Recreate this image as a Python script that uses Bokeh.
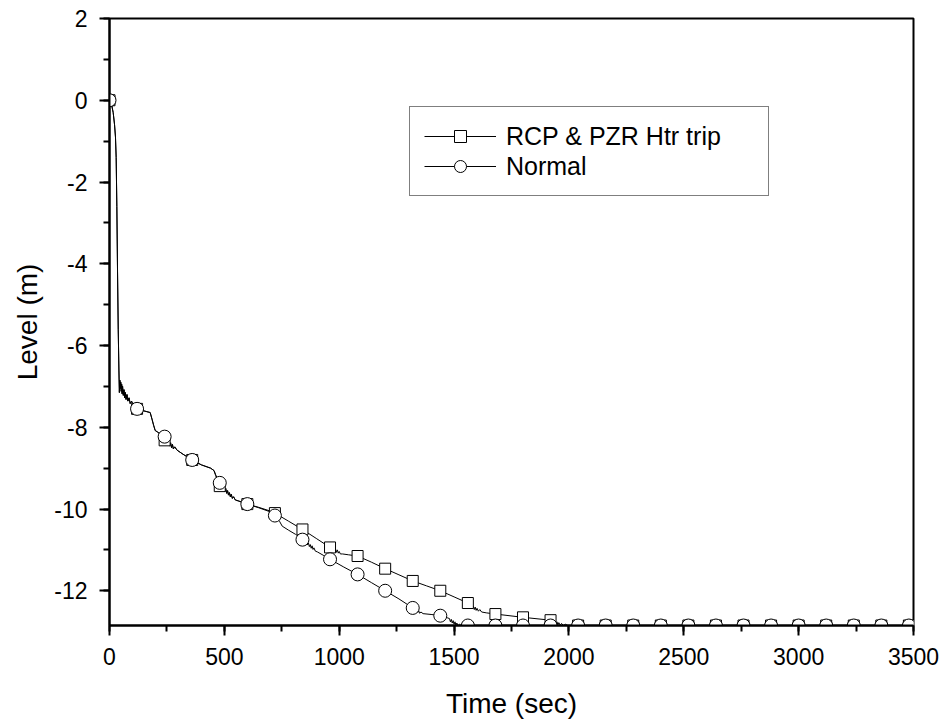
from bokeh.plotting import figure
from bokeh.models import Range1d, SingleIntervalTicker, CustomJSTickFormatter
from bokeh.embed import file_html
from bokeh.resources import INLINE

# ---------------- data ----------------
rcp_t = [0, 8, 16, 22, 26, 29, 32, 35, 38, 41, 43, 45, 47, 49, 51, 53, 55, 57, 60, 63, 66, 69, 72, 76, 80,
         85, 90, 96, 103, 112, 120, 150, 177, 185, 192, 199, 210, 225, 240, 250, 254, 258, 262, 266, 270,
         274, 278, 284, 294, 320, 360, 400, 440, 455, 462, 470, 480, 490, 494, 498, 502, 506, 510, 514,
         518, 522, 526, 530, 535, 540, 548, 560, 580, 600, 650, 700, 720, 780, 840, 900, 960, 968, 972,
         976, 980, 984, 988, 992, 996, 1000, 1005, 1015, 1040, 1080, 1140, 1200, 1260, 1320, 1380, 1440,
         1500, 1560, 1568, 1572, 1576, 1580, 1584, 1588, 1592, 1596, 1600, 1606, 1612, 1620, 1640, 1680,
         1800, 1920, 1930, 1936, 1940, 1944, 1948, 1952, 1956, 1962, 1968, 1976, 1985, 1995, 2040, 3500]
rcp_level = [0, -0.08, -0.3, -0.6, -0.9, -1.4, -2.6, -4.2, -5.6, -6.6, -7.15, -6.85, -7.05, -6.9, -7.12,
             -6.95, -7.18, -7.0, -7.22, -7.08, -7.28, -7.15, -7.32, -7.2, -7.36, -7.28, -7.42, -7.36, -7.46,
             -7.5, -7.55, -7.6, -7.64, -7.8, -7.95, -8.08, -8.12, -8.2, -8.32, -8.3, -8.42, -8.35, -8.46,
             -8.38, -8.5, -8.42, -8.53, -8.48, -8.56, -8.66, -8.8, -8.92, -9.0, -9.06, -9.18, -9.3, -9.44,
             -9.45, -9.54, -9.47, -9.58, -9.5, -9.62, -9.55, -9.66, -9.6, -9.7, -9.64, -9.74, -9.7, -9.78,
             -9.8, -9.84, -9.88, -9.96, -10.05, -10.1, -10.3, -10.5, -10.72, -10.94, -10.93, -11.0, -10.95,
             -11.03, -10.98, -11.06, -11.0, -11.08, -11.04, -11.1, -11.1, -11.12, -11.15, -11.3, -11.46,
             -11.61, -11.76, -11.88, -12.0, -12.15, -12.3, -12.33, -12.4, -12.35, -12.43, -12.38, -12.46,
             -12.4, -12.48, -12.43, -12.5, -12.46, -12.52, -12.54, -12.57, -12.65, -12.72, -12.72, -12.79,
             -12.74, -12.81, -12.76, -12.83, -12.78, -12.84, -12.8, -12.85, -12.82, -12.85, -12.85, -12.85]

normal_t = [0, 8, 16, 22, 26, 29, 32, 35, 38, 41, 43, 45, 47, 49, 51, 53, 55, 57, 60, 63, 66, 69, 72, 76, 80,
            85, 90, 96, 103, 112, 120, 150, 177, 185, 192, 199, 210, 225, 240, 250, 254, 258, 262, 266, 270,
            274, 278, 284, 294, 320, 360, 400, 440, 455, 462, 470, 480, 490, 494, 498, 502, 506, 510, 514,
            518, 522, 526, 530, 535, 540, 548, 560, 580, 600, 650, 700, 720, 740, 752, 780, 810, 840, 858,
            862, 866, 870, 874, 878, 882, 886, 890, 896, 905, 930, 960, 1020, 1080, 1140, 1200, 1260, 1320,
            1330, 1334, 1338, 1342, 1346, 1350, 1356, 1365, 1400, 1440, 1470, 1480, 1484, 1488, 1492, 1496,
            1500, 1504, 1508, 1512, 1518, 1524, 1530, 3500]
normal_level = [0, -0.08, -0.3, -0.6, -0.9, -1.4, -2.6, -4.2, -5.6, -6.6, -7.15, -6.85, -7.05, -6.9, -7.12,
                -6.95, -7.18, -7.0, -7.22, -7.08, -7.28, -7.15, -7.32, -7.2, -7.36, -7.28, -7.42, -7.36, -7.46,
                -7.5, -7.55, -7.6, -7.64, -7.8, -7.95, -8.08, -8.12, -8.18, -8.23, -8.3, -8.42, -8.35, -8.46,
                -8.38, -8.5, -8.42, -8.53, -8.48, -8.56, -8.66, -8.8, -8.92, -9.0, -9.06, -9.16, -9.26, -9.36,
                -9.43, -9.52, -9.46, -9.57, -9.5, -9.61, -9.55, -9.66, -9.6, -9.7, -9.64, -9.74, -9.7, -9.78,
                -9.8, -9.84, -9.88, -9.97, -10.07, -10.16, -10.3, -10.42, -10.52, -10.62, -10.75, -10.8,
                -10.88, -10.83, -10.92, -10.87, -10.96, -10.9, -10.99, -10.95, -11.03, -11.05, -11.13, -11.23,
                -11.42, -11.6, -11.8, -12.0, -12.2, -12.42, -12.44, -12.5, -12.46, -12.53, -12.49, -12.55,
                -12.52, -12.56, -12.58, -12.61, -12.66, -12.68, -12.76, -12.7, -12.79, -12.73, -12.82, -12.76,
                -12.84, -12.79, -12.85, -12.82, -12.85, -12.85]

marker_t = [0, 120, 240, 360, 480, 600, 720, 840, 960, 1080, 1200, 1320, 1440, 1560, 1680, 1800, 1920,
            2040, 2160, 2280, 2400, 2520, 2640, 2760, 2880, 3000, 3120, 3240, 3360, 3480]
rcp_marker_level = [0, -7.55, -8.32, -8.8, -9.44, -9.88, -10.1, -10.5, -10.94, -11.15, -11.46, -11.76,
                    -12.0, -12.3, -12.57, -12.65, -12.72, -12.85, -12.85, -12.85, -12.85, -12.85, -12.85,
                    -12.85, -12.85, -12.85, -12.85, -12.85, -12.85, -12.85]
normal_marker_level = [0, -7.55, -8.23, -8.8, -9.36, -9.88, -10.16, -10.75, -11.23, -11.6, -12.0, -12.42,
                       -12.61, -12.85, -12.85, -12.85, -12.85, -12.85, -12.85, -12.85, -12.85, -12.85,
                       -12.85, -12.85, -12.85, -12.85, -12.85, -12.85, -12.85, -12.85]

x_start, x_end = 0, 3500
y_start, y_end = -12.85, 2

FONT = "Liberation Sans"

p = figure(width=945, height=723,
           x_range=Range1d(x_start, x_end), y_range=Range1d(y_start, y_end),
           output_backend="svg", toolbar_location=None,
           min_border_left=109, min_border_right=32, min_border_top=18, min_border_bottom=98,
           background_fill_color="white", border_fill_color="white")
p.outline_line_color = "black"
p.outline_line_width = 2
p.xgrid.visible = False
p.ygrid.visible = False

p.line(rcp_t, rcp_level, line_color="black", line_width=1, legend_label="RCP & PZR Htr trip")
p.line(normal_t, normal_level, line_color="black", line_width=1, legend_label="Normal")
p.scatter(marker_t, rcp_marker_level, marker="square", size=11, fill_color="white",
          line_color="black", line_width=1, legend_label="RCP & PZR Htr trip")
p.scatter(marker_t, normal_marker_level, marker="circle", size=13, fill_color="white",
          line_color="black", line_width=1, legend_label="Normal")

# axes
xa = p.xaxis[0]
ya = p.yaxis[0]
xa.ticker = SingleIntervalTicker(interval=500, num_minor_ticks=2)
ya.ticker = SingleIntervalTicker(interval=2, num_minor_ticks=2)
ya.formatter = CustomJSTickFormatter(code="return String(tick);")
for ax in (xa, ya):
    ax.axis_line_width = 2
    ax.axis_line_color = "black"
    ax.major_tick_line_width = 2
    ax.minor_tick_line_width = 2
    ax.major_tick_in = 0
    ax.major_tick_out = 10
    ax.minor_tick_in = 0
    ax.minor_tick_out = 6
    ax.major_label_text_font = FONT
    ax.major_label_text_font_size = "23px"
    ax.major_label_text_color = "black"
    ax.axis_label_text_font = FONT
    ax.axis_label_text_font_size = "28px"
    ax.axis_label_text_font_style = "normal"
    ax.axis_label_text_color = "black"
xa.axis_label = "Time (sec)"
ya.axis_label = "Level (m)"
xa.major_label_standoff = 12
xa.axis_label_standoff = 20
ya.major_label_standoff = 12
ya.axis_label_standoff = 8

# legend
lg = p.legend[0]
lg.location = (300, 429)
lg.border_line_color = "black"
lg.border_line_width = 1
lg.background_fill_color = "white"
lg.background_fill_alpha = 1
lg.padding = 14
lg.spacing = 0
lg.margin = 0
lg.glyph_width = 72
lg.glyph_height = 30
lg.label_height = 30
lg.label_width = 248
lg.label_standoff = 10
lg.label_text_font = FONT
lg.label_text_font_size = "25px"
lg.label_text_color = "black"

open("out.html", "w").write(file_html(p, INLINE))
